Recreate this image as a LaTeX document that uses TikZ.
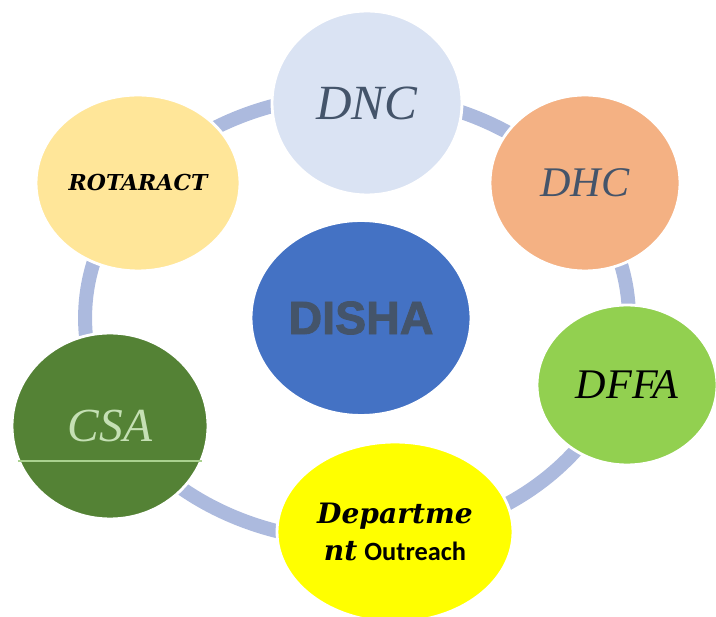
\documentclass[tikz,border=0pt]{standalone}
\usepackage{fontspec}
\setmainfont{Liberation Serif}
\newfontfamily\headfont[FakeBold=2]{Liberation Sans}
\newfontfamily\wideserif{DejaVu Serif}
\newfontfamily\calfont{Carlito}
\usetikzlibrary{shapes.geometric,positioning}

\definecolor{ringblue}{RGB}{172,186,222}
\definecolor{slatetext}{RGB}{68,84,106}
\definecolor{dncfill}{RGB}{218,227,243}
\definecolor{dhcfill}{RGB}{244,177,131}
\definecolor{dffafill}{RGB}{146,208,80}
\definecolor{deptfill}{RGB}{255,255,0}
\definecolor{csafill}{RGB}{84,130,53}
\definecolor{csatext}{RGB}{197,224,180}
\definecolor{csaline}{RGB}{169,209,142}
\definecolor{rotfill}{RGB}{255,230,153}
\definecolor{dishafill}{RGB}{68,114,196}

\begin{document}
\begin{tikzpicture}[x=0.02cm,y=-0.02cm,
    bubble/.style={ellipse,draw=white,line width=1.6pt,inner sep=0pt}]
    \useasboundingbox (0,0) rectangle (716,617);

    % the ring behind everything
    \node[ellipse,draw=ringblue,line width=0.28cm,minimum width=10.88cm,minimum height=8.92cm] (ring) at (357,318) {};

    \node[bubble,fill=dishafill,minimum width=4.4cm,minimum height=3.9cm,text=slatetext,font=\headfont\bfseries\fontsize{26.5}{30}\selectfont] (disha) at (361,318) {DISHA};

    \node[bubble,fill=dncfill,minimum width=3.8cm,minimum height=3.68cm,text=slatetext,font=\itshape\fontsize{28}{30}\selectfont] (dnc) at (367,103) {DNC};
    \node[bubble,fill=dhcfill,minimum width=3.8cm,minimum height=3.52cm,text=slatetext,font=\itshape\fontsize{24}{28}\selectfont] (dhc) at (585,183) {DHC};
    \node[bubble,fill=dffafill,minimum width=3.6cm,minimum height=3.2cm,font=\itshape\fontsize{24}{28}\selectfont] (dffa) at (627,385) {DFFA};
    \node[bubble,fill=deptfill,minimum width=4.72cm,minimum height=3.6cm,align=center,font=\fontsize{16}{21}\selectfont] (dept) at (395,532)
        {{\wideserif\bfseries\itshape Departme}\\
         {\wideserif\bfseries\itshape nt} {\calfont\bfseries\fontsize{15}{21}\selectfont Outreach}};
    \node[bubble,fill=csafill,minimum width=3.92cm,minimum height=3.72cm,text=csatext,font=\itshape\fontsize{27}{30}\selectfont] (csa) at (110,426) {CSA};
    \node[bubble,fill=rotfill,minimum width=4.08cm,minimum height=3.52cm,font=\wideserif\bfseries\itshape\fontsize{12.5}{14}\selectfont] (rot) at (138,183) {ROTARACT};

    % light stripe across CSA
    \draw[csaline,line width=1pt] (csa.201) -- (csa.339);
\end{tikzpicture}
\end{document}
